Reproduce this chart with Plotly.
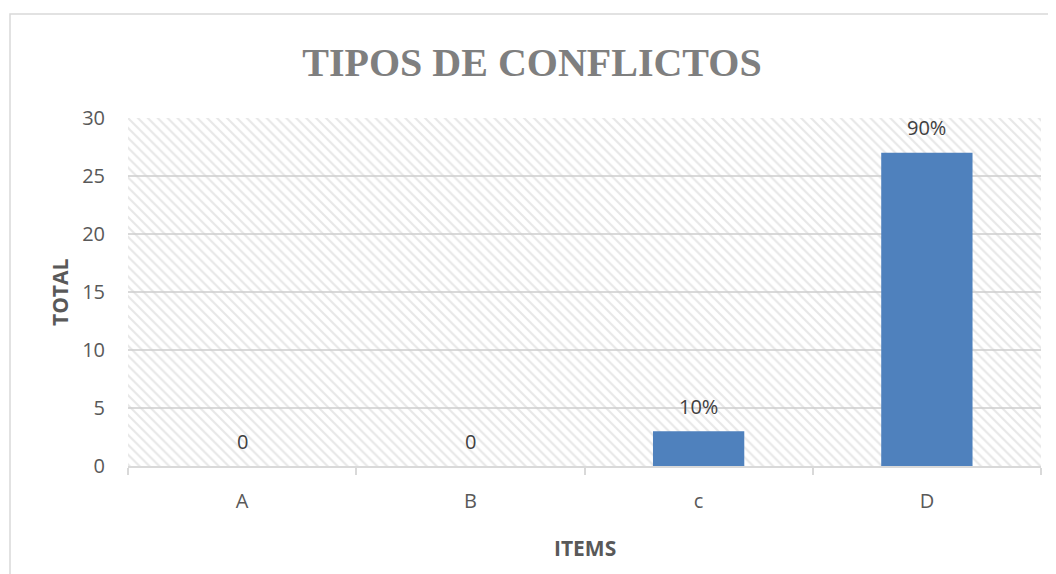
import plotly.graph_objects as go

categories = ["A", "B", "c", "D"]
totals = [0, 0, 3, 27]
labels = ["0", "0", "10%", "90%"]
y_ticks = [0, 5, 10, 15, 20, 25, 30]
y_max = 30

# page body has an 8px margin, so the figure is sized/positioned to compensate
OFF = 8
W, H = 1056 - OFF, 574 - OFF
ML, MR, MT, MB = 120, 15, 110, 108
PW = W - ML - MR
PH = H - MT - MB

FONT = "Open Sans, Lato, sans-serif"

fig = go.Figure()

# hatched plot-area background
fig.add_trace(go.Bar(
    x=categories, y=[y_max] * len(categories), width=1,
    marker=dict(color="rgba(0,0,0,0)", line=dict(width=0),
                pattern=dict(shape="\\", fgcolor="#CFCFCF", bgcolor="rgba(0,0,0,0)",
                             size=7, solidity=0.3)),
    hoverinfo="skip", showlegend=False,
))

fig.add_trace(go.Bar(
    x=categories, y=totals, width=0.4,
    marker=dict(color="#4F81BD", line=dict(width=0)),
    hoverinfo="x+y", showlegend=False,
))

annotations = [
    dict(x=c, y=v, xref="x", yref="y", text=t, showarrow=False,
         yanchor="middle", yshift=25,
         font=dict(family=FONT, size=20, color="#404040"))
    for c, v, t in zip(categories, totals, labels)
]
annotations += [
    dict(text="<b>TOTAL</b>", xref="paper", yref="paper",
         x=(52 - ML) / PW, y=(H - MB - 284) / PH, textangle=-90,
         showarrow=False, xanchor="center", yanchor="middle",
         font=dict(family=FONT, size=21, color="#595959")),
    dict(text="<b>ITEMS</b>", xref="paper", yref="paper",
         x=0.5, y=-(540 - (H - MB)) / PH,
         showarrow=False, xanchor="center", yanchor="middle",
         font=dict(family=FONT, size=21, color="#595959")),
]

fig.update_layout(
    width=W, height=H,
    margin=dict(l=ML, r=MR, t=MT, b=MB),
    paper_bgcolor="white", plot_bgcolor="white",
    barmode="overlay",
    title=dict(text="<b>TIPOS DE CONFLICTOS</b>", x=524 / W, xref="container",
               y=1 - 54 / H, yref="container", xanchor="center", yanchor="middle",
               font=dict(family="Liberation Serif, serif", size=40, color="#7F7F7F")),
    xaxis=dict(
        type="category", range=[-0.5, 3.5],
        showgrid=False, showline=True, linecolor="#D9D9D9", linewidth=1.5,
        ticks="outside", tickson="boundaries", ticklen=7, tickcolor="#D9D9D9", tickwidth=1.5,
        ticklabelstandoff=16,
        tickfont=dict(family=FONT, size=20, color="#595959"),
        zeroline=False,
    ),
    yaxis=dict(
        range=[0, y_max], tickvals=y_ticks,
        showgrid=True, gridcolor="#D9D9D9", gridwidth=1.5,
        showline=False, zeroline=False, ticks="",
        ticklabelstandoff=22,
        tickfont=dict(family=FONT, size=20, color="#595959"),
    ),
    shapes=[dict(
        type="rect", xref="paper", yref="paper",
        x0=(2 - ML) / PW, x1=(W + 20 - ML) / PW,
        y0=-(MB + 20) / PH, y1=(H - MB - 6) / PH,
        line=dict(color="#D9D9D9", width=1.5), fillcolor="rgba(0,0,0,0)", layer="below",
    )],
    annotations=annotations,
)

fig.write_html("out.html")
